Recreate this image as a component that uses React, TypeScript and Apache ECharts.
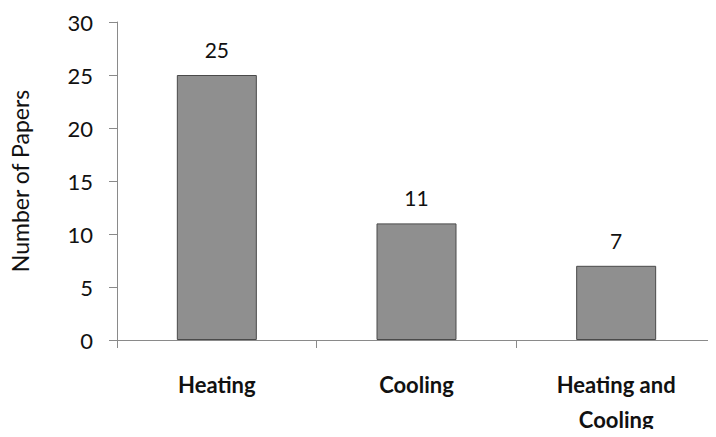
import React, { useEffect, useRef } from "react";
import * as echarts from "echarts";

const categories = ["Heating", "Cooling", "Heating and\nCooling"];
const paperCounts = [25, 11, 7];
const yTicks = { min: 0, max: 30, interval: 5 };

export default function App() {
  const ref = useRef<HTMLDivElement>(null);

  useEffect(() => {
    if (!ref.current) return;
    const chart = echarts.init(ref.current, null, { renderer: "svg" });
    const font = "Lato, 'Open Sans', sans-serif";
    chart.setOption({
      animation: false,
      backgroundColor: "#ffffff",
      grid: { left: 112, top: 22, height: 325, width: 617, containLabel: false },
      xAxis: {
        type: "category",
        data: categories,
        axisLine: { lineStyle: { color: "#8a8a8a", width: 1 } },
        axisTick: { show: true, alignWithLabel: false, length: 8, lineStyle: { color: "#8a8a8a" } },
        axisLabel: {
          color: "#111",
          fontFamily: font,
          fontWeight: "bold",
          fontSize: 22,
          margin: 27,
          lineHeight: 35,
        },
      },
      yAxis: {
        type: "value",
        min: yTicks.min,
        max: yTicks.max,
        interval: yTicks.interval,
        name: "Number of Papers",
        nameLocation: "middle",
        nameGap: 86,
        nameTextStyle: { color: "#111", fontFamily: font, fontSize: 23 },
        axisLine: { show: true, lineStyle: { color: "#8a8a8a", width: 1 } },
        axisTick: { show: true, length: 8, lineStyle: { color: "#8a8a8a" } },
        axisLabel: { color: "#111", fontFamily: font, fontSize: 22, margin: 24 },
        splitLine: { show: false },
      },
      series: [
        {
          type: "bar",
          data: paperCounts,
          barWidth: 80,
          itemStyle: { color: "#8f8f8f", borderColor: "#4a4a4a", borderWidth: 1 },
          label: {
            show: true,
            position: "top",
            distance: 15,
            color: "#111",
            fontFamily: font,
            fontSize: 21,
          },
        },
      ],
    });
    return () => chart.dispose();
  }, []);

  return <div ref={ref} style={{ width: 716, height: 437, margin: -8 }} />;
}
